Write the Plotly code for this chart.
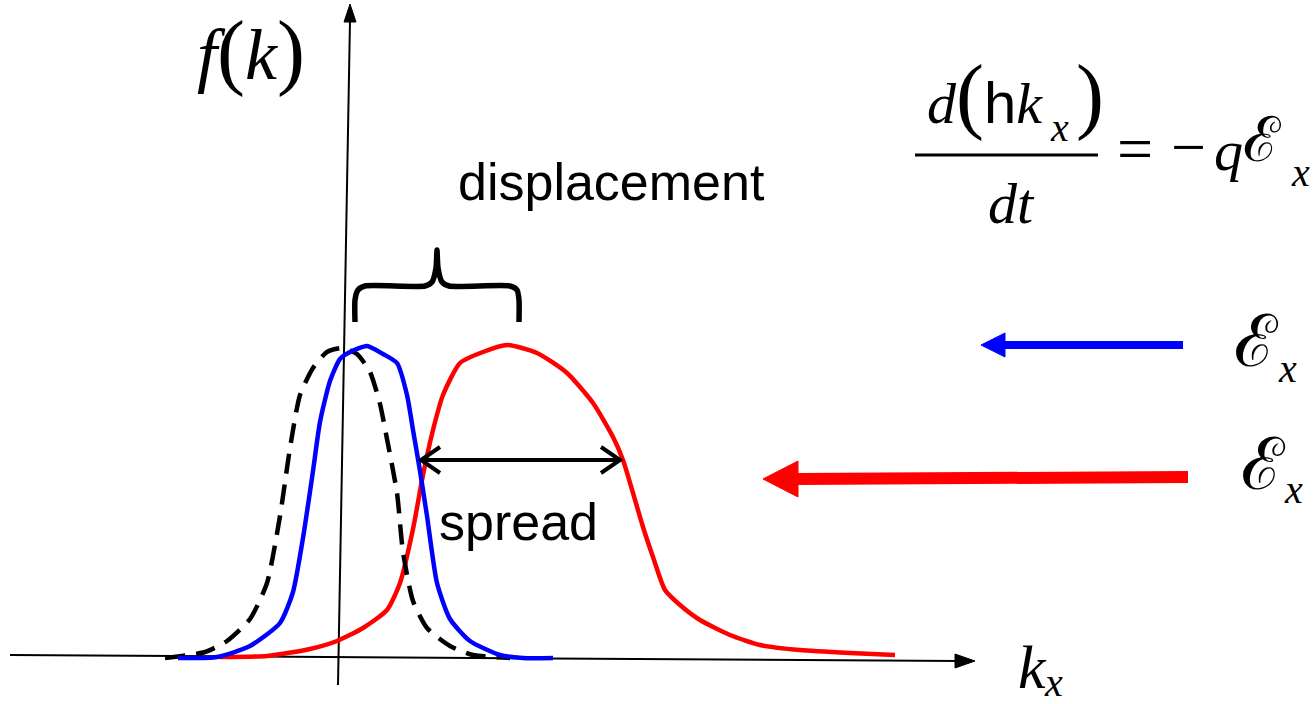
import plotly.graph_objects as go

# Chart units: k measured from the f-axis, f measured from the k-axis baseline
K_RANGE = [-340, 974]
F_RANGE = [-47, 657]

# Equilibrium distribution (dashed)
k_eq = [-175, -135, -113, -90, -73, -60, -50, -40, -27, -13, 3, 17, 30, 40, 47, 57, 63, 73, 87, 110, 133, 170]
f_eq = [-1, 5, 16, 38, 74, 141, 209, 262, 289, 305, 309, 303, 285, 253, 218, 164, 105, 56, 29, 11, 2, -1]

# Distribution under a weak field (blue)
k_weak = [-162, -123, -90, -60, -47, -37, -27, -20, -10, 0, 10, 27, 43, 57, 67, 73, 80, 87, 97, 110, 130, 160, 183, 213]
f_weak = [-1, 0, 11, 34, 65, 119, 186, 235, 276, 298, 305, 311, 303, 294, 262, 227, 186, 141, 74, 38, 16, 2, -1, -1]

# Distribution under a strong field (red)
k_strong = [-120, -73, -30, -3, 23, 47, 60, 73, 83, 93, 103, 120, 143, 167, 197, 227, 253, 273, 283, 293,
            303, 313, 325, 340, 360, 390, 420, 460, 510, 555]
f_strong = [0, 1, 8, 16, 29, 47, 74, 128, 182, 227, 262, 294, 305, 312, 304, 284, 254, 220, 197, 164,
            130, 100, 67, 52, 37, 22, 12, 7, 4, 2]

# Axes of the sketch (slightly hand-drawn tilt)
f_axis_k = [-2, 10]
f_axis_f = [-28, 637]
k_axis_k = [-330, 618]
k_axis_f = [2, -4]

# Curly brace marking the displacement
brace_k = [15, 15, 18, 25, 85, 92, 96, 97, 98, 102, 109, 170, 177, 179, 179]
brace_f = [335, 357, 367, 371, 371, 375, 389, 407, 389, 375, 371, 371, 367, 357, 335]

# Spread double arrow
spread_k = [81, 280]
spread_level = 197

# Field arrows (tail k, head k, level f)
weak_field = dict(tail=843, head=641, level=312)
strong_field = dict(tail=848, head=423, level_tail=180, level_head=178)

BLUE = "#0000ff"
RED = "#ff0000"
BLACK = "#000000"

fig = go.Figure()


def line(xs, ys, color, width, dash=None, shape="linear"):
    fig.add_trace(go.Scatter(
        x=xs, y=ys, mode="lines", hoverinfo="skip",
        line=dict(color=color, width=width, dash=dash, shape=shape, smoothing=0.6),
    ))


def triangle(xs, ys, color):
    fig.add_trace(go.Scatter(
        x=xs + [xs[0]], y=ys + [ys[0]], mode="lines", fill="toself",
        fillcolor=color, line=dict(color=color, width=1), hoverinfo="skip",
    ))


# axes
line(f_axis_k, f_axis_f, BLACK, 2)
triangle([f_axis_k[1] - 6, f_axis_k[1] + 6, f_axis_k[1]], [f_axis_f[1] - 2, f_axis_f[1] - 2, f_axis_f[1] + 16], BLACK)
line(k_axis_k, k_axis_f, BLACK, 2)
triangle([k_axis_k[1] - 3, k_axis_k[1] - 3, k_axis_k[1] + 17], [k_axis_f[1] + 7, k_axis_f[1] - 7, k_axis_f[1]], BLACK)

# distributions
line(k_strong, f_strong, RED, 4.5, shape="spline")
line(k_eq, f_eq, BLACK, 4.5, dash="20px,11px", shape="spline")
line(k_weak, f_weak, BLUE, 4.5, shape="spline")

# brace
line(brace_k, brace_f, BLACK, 5.5, shape="spline")

# spread arrow with open heads
line(spread_k, [spread_level, spread_level], BLACK, 4)
line([spread_k[0] + 19, spread_k[0], spread_k[0] + 19], [spread_level + 13, spread_level, spread_level - 13], BLACK, 4)
line([spread_k[1] - 19, spread_k[1], spread_k[1] - 19], [spread_level + 13, spread_level, spread_level - 13], BLACK, 4)

# weak field arrow (blue)
line([weak_field["tail"], weak_field["head"] + 20], [weak_field["level"]] * 2, BLUE, 8)
triangle([weak_field["head"], weak_field["head"] + 24, weak_field["head"] + 24],
         [weak_field["level"], weak_field["level"] + 12, weak_field["level"] - 12], BLUE)

# strong field arrow (red)
line([strong_field["tail"], strong_field["head"] + 32], [strong_field["level_tail"], strong_field["level_head"]], RED, 12)
triangle([strong_field["head"], strong_field["head"] + 35, strong_field["head"] + 35],
         [strong_field["level_head"], strong_field["level_head"] + 18, strong_field["level_head"] - 18], RED)

# fraction bar of the equation of motion
line([575, 758], [502, 502], BLACK, 3)

SERIF = "Liberation Serif"
SANS = "Liberation Sans"


def text(s, x, y, size, family=SERIF, xanchor="center"):
    fig.add_annotation(
        x=x, y=y, xref="x", yref="y", text=s, showarrow=False,
        xanchor=xanchor, yanchor="middle",
        font=dict(family=family, size=size, color=BLACK),
    )


text('<span style="font-size:72px"><i>f</i></span>(<span style="font-size:72px"><i>k</i></span>)', -89, 606, 84)
text("displacement", 271, 475, 52, SANS)
text("spread", 178, 135, 52, SANS)

text('<span style="font-size:58px"><i>d</i></span>(<span style="font-family:Liberation Sans;font-size:58px">h</span>'
     '<span style="font-size:58px"><i>k</i></span>', 645, 562, 84)
text("<i>x</i>", 719, 530, 40)
text(")", 750, 562, 84)
text("<i>dt</i>", 671, 454, 58)
text("=", 795, 509, 64)
text("−", 848, 510, 62)
text("<i>q</i>", 888, 507, 58)
text("ℰ", 922, 517, 62)
text("<i>x</i>", 960, 485, 40)

text("ℰ", 916, 315, 72)
text("<i>x</i>", 947, 289, 40)
text("ℰ", 923, 192, 72)
text("<i>x</i>", 953, 168, 40)

text("<i>k</i>", 692, -10, 62)
text("<i>x</i>", 713, -25, 40)

fig.update_layout(
    width=1314, height=704,
    margin=dict(l=0, r=0, t=0, b=0),
    paper_bgcolor="white", plot_bgcolor="white",
    showlegend=False,
    xaxis=dict(range=K_RANGE, visible=False, fixedrange=True),
    yaxis=dict(range=F_RANGE, visible=False, fixedrange=True),
)

fig.write_html("out.html")
